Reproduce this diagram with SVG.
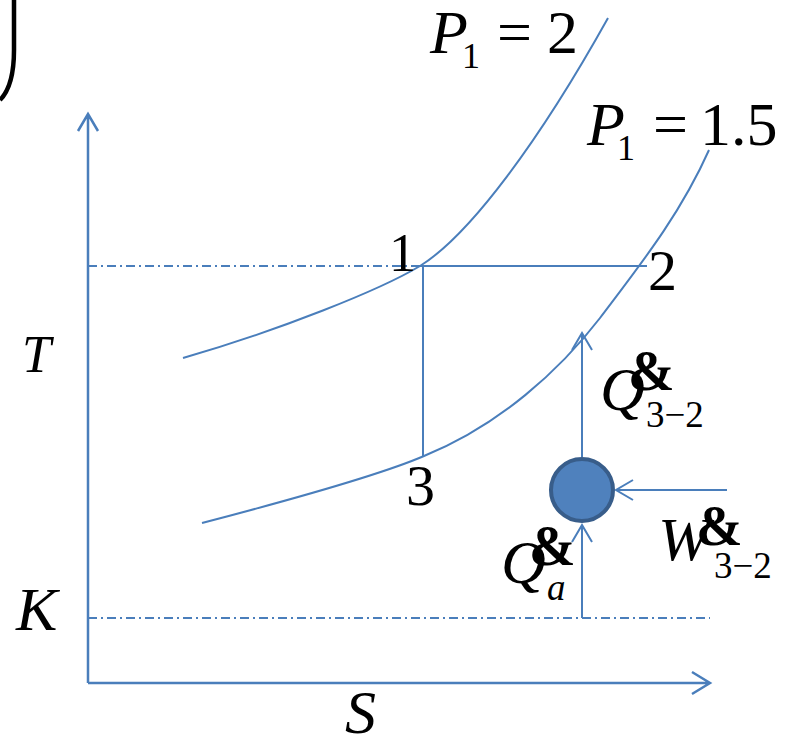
<svg xmlns="http://www.w3.org/2000/svg" width="789" height="736" viewBox="0 0 789 736">
<rect width="789" height="736" fill="#fff"/>
<path d="M14,0 L14,50 Q14,86 0,100" stroke="#000" stroke-width="4.5" fill="none"/>
<g id="connectors" fill="none" stroke="#4A7EBB">
<path stroke="#4A7EBB" stroke-width="2.5" fill="none" d="M88,683 L88,114 M78,131 L88,114 L98,131"/>
<path stroke="#4A7EBB" stroke-width="2.5" fill="none" d="M88,683 L710,683 M692,672 L710,683 L692,694"/>
<path stroke="#4A7EBB" stroke-width="2" fill="none" stroke-dasharray="9 4 2 4" d="M88,266 L420,266"/>
<path stroke="#4A7EBB" stroke-width="2" fill="none" stroke-dasharray="9 4 2 4" d="M88,618 L710,618"/>
<path stroke="#4A7EBB" stroke-width="2" fill="none" d="M183,358 C280,330 380,290 420,266 C470,235 540,140 608,18"/>
<path stroke="#4A7EBB" stroke-width="2" fill="none" d="M202,523 C290,500 380,475 424,456 C500,425 560,370 600,318 C640,265 680,215 709,150"/>
<path stroke="#4A7EBB" stroke-width="2" fill="none" d="M420,266 L647,266 M423,266 L423,456"/>
<path stroke="#4A7EBB" stroke-width="2" fill="none" d="M582,618 L582,525 M572,542 L582,525 L592,542"/>
<path stroke="#4A7EBB" stroke-width="2" fill="none" d="M582,457 L582,333 M572,350 L582,333 L592,350"/>
<path stroke="#4A7EBB" stroke-width="2" fill="none" d="M727,490 L616,490 M633,480 L616,490 L633,500"/>
</g>
<g id="node-circle">
<circle cx="582" cy="490" r="31" fill="#4F81BD" stroke="#385D8A" stroke-width="4"/>
</g>
<g id="label-P2">
<text font-family="'Liberation Serif', serif" font-style="italic" x="430" y="53" font-size="62">P</text>
<text font-family="'Liberation Serif', serif" x="462" y="68" font-size="36">1</text>
<text font-family="'Liberation Serif', serif" x="497" y="53" font-size="62">=</text>
<text font-family="'Liberation Serif', serif" x="547" y="53" font-size="62">2</text>
</g>
<g id="label-P15">
<text font-family="'Liberation Serif', serif" font-style="italic" x="587" y="145" font-size="62">P</text>
<text font-family="'Liberation Serif', serif" x="617" y="160" font-size="36">1</text>
<text font-family="'Liberation Serif', serif" x="653" y="145" font-size="62">=</text>
<text font-family="'Liberation Serif', serif" x="700" y="145" font-size="62">1.5</text>
</g>
<g id="point-1"><text font-family="'Liberation Serif', serif" x="389" y="271" font-size="54">1</text></g>
<g id="point-2"><text font-family="'Liberation Serif', serif" x="648" y="290" font-size="58">2</text></g>
<g id="point-3"><text font-family="'Liberation Serif', serif" x="406" y="505" font-size="58">3</text></g>
<g id="label-T"><text font-family="'Liberation Serif', serif" font-style="italic" x="22" y="372" font-size="52">T</text></g>
<g id="label-K"><text font-family="'Liberation Serif', serif" font-style="italic" x="16" y="630" font-size="62">K</text></g>
<g id="label-S"><text font-family="'Liberation Serif', serif" font-style="italic" x="345" y="733" font-size="62">S</text></g>
<g id="label-Q32">
<text font-family="'Liberation Serif', serif" font-style="italic" x="600" y="410" font-size="62">Q</text>
<text font-family="'Liberation Serif', serif" font-weight="bold" x="628" y="390" font-size="56">&amp;</text>
<text font-family="'Liberation Serif', serif" x="646" y="427" font-size="37">3&#8722;2</text>
</g>
<g id="label-Qa">
<text font-family="'Liberation Serif', serif" font-style="italic" x="501" y="583" font-size="62">Q</text>
<text font-family="'Liberation Serif', serif" font-weight="bold" x="529" y="565" font-size="56">&amp;</text>
<text font-family="'Liberation Serif', serif" font-style="italic" x="547" y="600" font-size="37">a</text>
</g>
<g id="label-W32">
<text font-family="'Liberation Serif', serif" font-style="italic" x="658" y="560" font-size="62">W</text>
<text font-family="'Liberation Serif', serif" font-weight="bold" x="696" y="545" font-size="56">&amp;</text>
<text font-family="'Liberation Serif', serif" x="714" y="578" font-size="37">3&#8722;2</text>
</g>
</svg>
